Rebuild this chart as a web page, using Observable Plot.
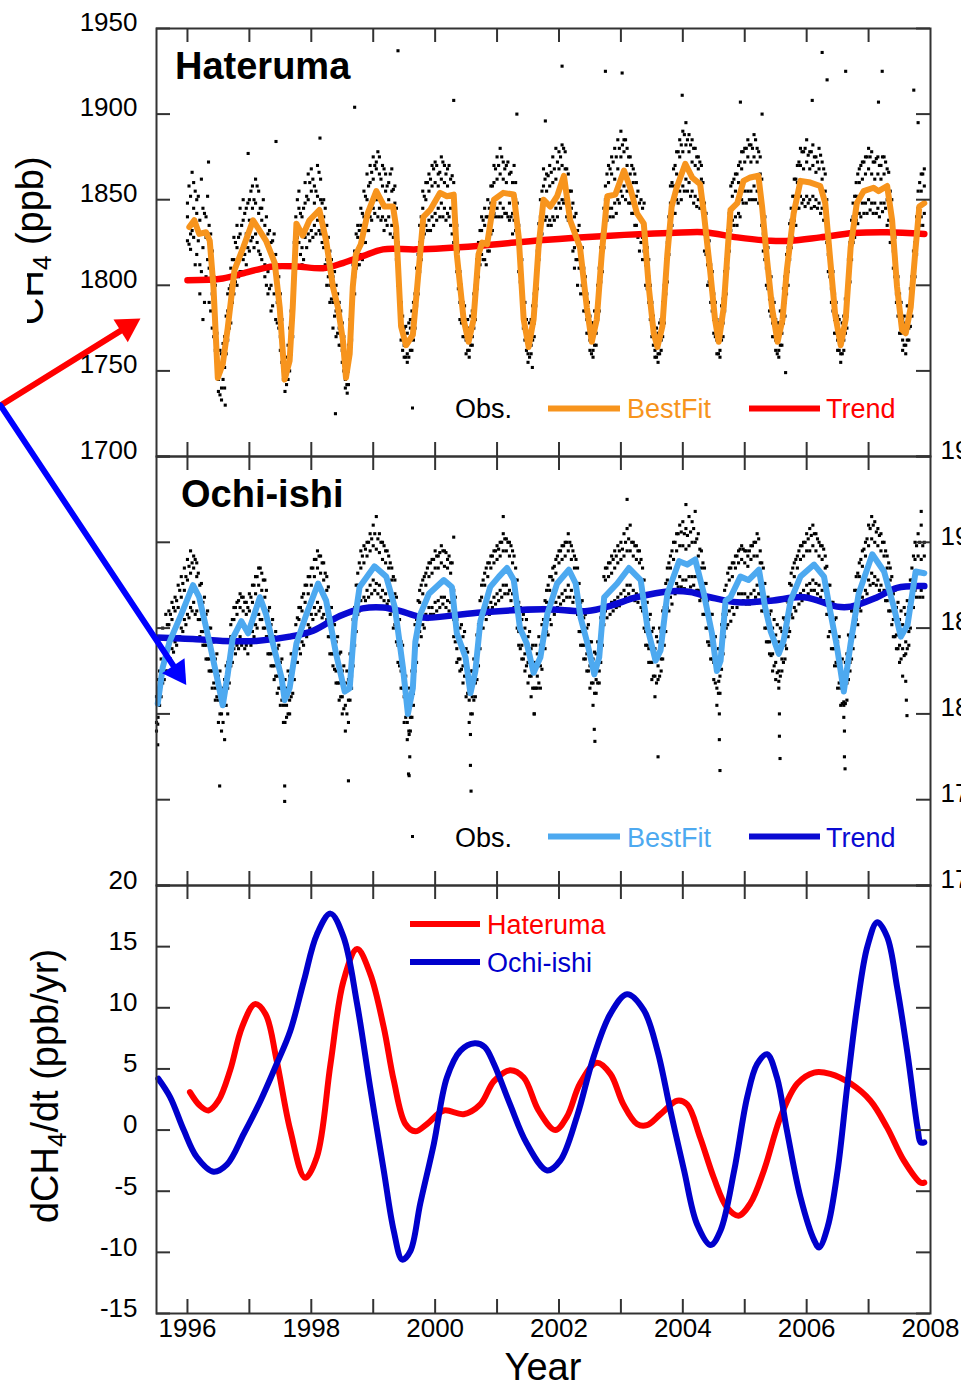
<!DOCTYPE html>
<html><head><meta charset="utf-8">
<script src="https://cdn.jsdelivr.net/npm/d3@7"></script>
<script src="https://cdn.jsdelivr.net/npm/@observablehq/plot@0.6"></script>
<style>
body{margin:0;background:#fff}
#root{position:relative;width:961px;height:1386px;overflow:hidden;background:#fff;font-family:"Liberation Sans",Arial,sans-serif}
</style></head><body><div id="root"></div>
<script>
// ---------- tick values ----------
const yearTicks = [1996,1997,1998,1999,2000,2001,2002,2003,2004,2005,2006,2007];
const yearLabels = [1996,1998,2000,2002,2004,2006,2008];
const ppbTicks = [1700,1750,1800,1850,1900,1950];
const rateTicks = [-15,-10,-5,0,5,10,15,20];

// ---------- Hateruma (year, ppb) ----------
const hatBestFit = [[1996.03,1834],[1996.11,1838],[1996.19,1830],[1996.30,1831],[1996.36,1826],[1996.42,1799],[1996.49,1746],[1996.57,1754],[1996.65,1775],[1996.76,1809],[1996.90,1822],[1997.06,1838],[1997.27,1826],[1997.41,1813],[1997.49,1787],[1997.57,1745],[1997.65,1756],[1997.70,1787],[1997.76,1836],[1997.86,1829],[1997.97,1838],[1998.13,1844],[1998.24,1826],[1998.35,1799],[1998.43,1787],[1998.51,1768],[1998.56,1746],[1998.62,1760],[1998.67,1799],[1998.72,1818],[1998.80,1824],[1998.91,1842],[1999.05,1855],[1999.18,1846],[1999.32,1846],[1999.37,1834],[1999.45,1776],[1999.53,1765],[1999.64,1771],[1999.71,1799],[1999.81,1840],[1999.92,1844],[2000.08,1854],[2000.19,1852],[2000.30,1853],[2000.35,1818],[2000.46,1780],[2000.54,1767],[2000.62,1780],[2000.70,1818],[2000.76,1825],[2000.84,1824],[2000.95,1850],[2001.10,1854],[2001.27,1853],[2001.35,1828],[2001.43,1780],[2001.51,1764],[2001.59,1780],[2001.67,1822],[2001.75,1850],[2001.86,1846],[2001.97,1852],[2002.08,1864],[2002.18,1838],[2002.34,1822],[2002.45,1787],[2002.53,1767],[2002.61,1780],[2002.69,1818],[2002.78,1852],[2002.91,1853],[2003.05,1867],[2003.15,1857],[2003.26,1842],[2003.37,1836],[2003.45,1799],[2003.53,1772],[2003.59,1764],[2003.67,1776],[2003.75,1818],[2003.82,1846],[2003.90,1857],[2004.04,1871],[2004.15,1863],[2004.28,1859],[2004.34,1842],[2004.44,1809],[2004.52,1780],[2004.58,1767],[2004.66,1787],[2004.77,1844],[2004.88,1848],[2004.98,1861],[2005.09,1863],[2005.22,1864],[2005.28,1846],[2005.36,1815],[2005.44,1787],[2005.53,1767],[2005.61,1780],[2005.68,1809],[2005.79,1842],[2005.90,1861],[2006.06,1860],[2006.22,1858],[2006.30,1848],[2006.38,1815],[2006.46,1783],[2006.55,1765],[2006.63,1780],[2006.71,1822],[2006.81,1848],[2006.92,1855],[2007.08,1857],[2007.16,1855],[2007.30,1858],[2007.38,1838],[2007.46,1799],[2007.54,1774],[2007.60,1772],[2007.68,1787],[2007.76,1822],[2007.82,1846],[2007.90,1848]];
const hatTrend = [[1996.00,1803],[1996.57,1804],[1996.90,1807],[1997.11,1809],[1997.38,1811],[1997.76,1811],[1998.19,1810],[1998.51,1813],[1998.83,1817],[1999.16,1821],[1999.70,1821],[2000.68,1823],[2001.75,1826.5],[2002.83,1829],[2003.80,1830.5],[2004.34,1831],[2004.88,1828],[2005.42,1826],[2005.74,1826],[2006.22,1828],[2006.76,1830.5],[2007.30,1831],[2007.90,1830]];
// observations: [year, reading, reading, ...]
const hatObs = [
[1996.00,1840,1826,1848],[1996.05,1852,1830,1821],[1996.10,1845,1828,1860],[1996.15,1842,1818,1850],[1996.20,1838,1812,1795],[1996.25,1845,1822,1780],[1996.30,1828,1840,1805],[1996.35,1835,1810,1790],[1996.40,1820,1795,1775],[1996.45,1790,1762,1800],[1996.50,1755,1738,1745],[1996.55,1740,1760,1733],[1996.60,1770,1752,1740],[1996.65,1785,1768,1795],[1996.70,1800,1778,1810],[1996.75,1815,1795,1828],[1996.80,1822,1800,1835],[1996.85,1830,1808,1845],[1996.90,1838,1815,1850],[1996.95,1845,1830,1812],
[1997.00,1850,1838,1820],[1997.05,1845,1858,1828],[1997.10,1848,1830,1862],[1997.15,1842,1820,1855],[1997.20,1838,1815,1845],[1997.25,1835,1812,1805],[1997.30,1830,1808,1795],[1997.35,1825,1800,1785],[1997.40,1810,1795,1830],[1997.45,1790,1812,1778],[1997.50,1770,1795,1762],[1997.55,1750,1765,1745],[1997.60,1742,1758,1748],[1997.65,1765,1750,1775],[1997.70,1780,1800,1770],[1997.75,1820,1840,1810],[1997.80,1845,1825,1855],[1997.85,1840,1822,1812],[1997.90,1848,1828,1860],[1997.95,1850,1830,1865],
[1998.00,1855,1832,1868],[1998.05,1858,1835,1848],[1998.10,1852,1838,1870],[1998.15,1850,1830,1862],[1998.20,1840,1822,1850],[1998.25,1835,1815,1800],[1998.30,1820,1800,1790],[1998.35,1805,1790,1775],[1998.40,1785,1800,1770],[1998.45,1775,1790,1765],[1998.50,1762,1778,1755],[1998.55,1745,1758,1740],[1998.60,1750,1765,1742],[1998.65,1775,1795,1768],[1998.70,1805,1820,1795],[1998.75,1828,1812,1835],[1998.80,1835,1818,1845],[1998.85,1840,1825,1855],[1998.90,1850,1832,1865],[1998.95,1860,1840,1870],
[1999.00,1862,1845,1875],[1999.05,1868,1850,1872],[1999.10,1865,1845,1875],[1999.15,1858,1840,1870],[1999.20,1855,1838,1865],[1999.25,1860,1840,1850],[1999.30,1855,1835,1868],[1999.35,1848,1830,1858],[1999.40,1815,1800,1825],[1999.45,1780,1768,1790],[1999.50,1765,1775,1758],[1999.55,1760,1772,1755],[1999.60,1762,1775,1780],[1999.65,1780,1768,1790],[1999.70,1800,1788,1810],[1999.75,1825,1808,1835],[1999.80,1845,1828,1855],[1999.85,1850,1835,1860],[1999.90,1855,1838,1865],[1999.95,1858,1840,1870],
[2000.00,1860,1842,1872],[2000.05,1865,1845,1858],[2000.10,1862,1848,1875],[2000.15,1860,1845,1870],[2000.20,1858,1842,1868],[2000.25,1862,1845,1835],[2000.30,1860,1840,1825],[2000.35,1825,1808,1835],[2000.40,1790,1808,1780],[2000.45,1778,1790,1770],[2000.50,1768,1780,1760],[2000.55,1762,1775,1758],[2000.60,1770,1785,1765],[2000.65,1788,1800,1780],[2000.70,1810,1825,1805],[2000.75,1832,1818,1840],[2000.80,1835,1815,1845],[2000.85,1840,1820,1850],[2000.90,1848,1830,1858],[2000.95,1860,1842,1870],
[2001.00,1862,1845,1875],[2001.05,1865,1848,1880],[2001.10,1862,1845,1872],[2001.15,1860,1842,1870],[2001.20,1865,1848,1838],[2001.25,1860,1842,1830],[2001.30,1850,1832,1860],[2001.35,1835,1818,1808],[2001.40,1805,1790,1815],[2001.45,1780,1768,1790],[2001.50,1760,1772,1755],[2001.55,1765,1780,1760],[2001.60,1778,1795,1770],[2001.65,1805,1820,1798],[2001.70,1840,1825,1850],[2001.75,1858,1842,1868],[2001.80,1855,1840,1865],[2001.85,1858,1838,1870],[2001.90,1860,1840,1875],[2001.95,1862,1845,1880],
[2002.00,1868,1848,1878],[2002.05,1870,1850,1882],[2002.10,1868,1850,1878],[2002.15,1855,1838,1865],[2002.20,1845,1828,1855],[2002.25,1840,1822,1810],[2002.30,1832,1815,1800],[2002.35,1828,1810,1795],[2002.40,1810,1795,1785],[2002.45,1780,1795,1772],[2002.50,1768,1782,1762],[2002.55,1762,1778,1758],[2002.60,1772,1785,1765],[2002.65,1792,1810,1785],[2002.70,1815,1830,1808],[2002.75,1850,1835,1858],[2002.80,1860,1845,1870],[2002.85,1865,1845,1875],[2002.90,1862,1848,1880],[2002.95,1868,1850,1885],
[2003.00,1875,1855,1890],[2003.05,1878,1858,1885],[2003.10,1870,1855,1880],[2003.15,1865,1848,1875],[2003.20,1860,1842,1868],[2003.25,1852,1835,1860],[2003.30,1848,1830,1820],[2003.35,1845,1828,1815],[2003.40,1830,1812,1800],[2003.45,1805,1790,1815],[2003.50,1778,1790,1770],[2003.55,1762,1775,1758],[2003.60,1760,1772,1755],[2003.65,1768,1780,1762],[2003.70,1785,1800,1778],[2003.75,1810,1825,1802],[2003.80,1848,1832,1858],[2003.85,1858,1842,1868],[2003.90,1865,1850,1878],[2003.95,1875,1855,1885],
[2004.00,1878,1858,1890],[2004.05,1882,1862,1895],[2004.10,1878,1860,1888],[2004.15,1872,1855,1885],[2004.20,1870,1852,1880],[2004.25,1868,1850,1875],[2004.30,1862,1845,1870],[2004.35,1848,1830,1820],[2004.40,1830,1812,1800],[2004.45,1812,1798,1790],[2004.50,1780,1795,1772],[2004.55,1768,1780,1760],[2004.60,1762,1778,1758],[2004.65,1778,1792,1770],[2004.70,1800,1815,1795],[2004.75,1828,1842,1820],[2004.80,1852,1838,1860],[2004.85,1855,1840,1865],[2004.90,1860,1842,1870],[2004.95,1868,1850,1878],
[2005.00,1872,1855,1880],[2005.05,1875,1855,1885],[2005.10,1872,1855,1882],[2005.15,1875,1858,1888],[2005.20,1872,1855,1880],[2005.25,1865,1848,1875],[2005.30,1845,1830,1820],[2005.35,1825,1810,1800],[2005.40,1808,1792,1785],[2005.45,1778,1792,1770],[2005.50,1768,1780,1762],[2005.55,1762,1778,1758],[2005.60,1772,1785,1765],[2005.65,1790,1805,1782],[2005.70,1808,1822,1800],[2005.75,1838,1822,1845],[2005.80,1852,1838,1862],[2005.85,1860,1845,1870],[2005.90,1870,1852,1880],[2005.95,1868,1850,1878],
[2006.00,1872,1852,1885],[2006.05,1868,1850,1878],[2006.10,1870,1852,1882],[2006.15,1866,1850,1875],[2006.20,1868,1848,1880],[2006.25,1862,1845,1872],[2006.30,1855,1838,1865],[2006.35,1835,1818,1808],[2006.40,1815,1798,1790],[2006.45,1780,1795,1772],[2006.50,1768,1782,1762],[2006.55,1760,1772,1755],[2006.60,1768,1782,1762],[2006.65,1782,1798,1775],[2006.70,1810,1825,1802],[2006.75,1840,1825,1848],[2006.80,1852,1838,1860],[2006.85,1860,1842,1868],[2006.90,1862,1848,1872],[2006.95,1865,1848,1875],
[2007.00,1868,1850,1880],[2007.05,1865,1848,1878],[2007.10,1862,1848,1872],[2007.15,1865,1845,1875],[2007.20,1862,1848,1870],[2007.25,1865,1848,1875],[2007.30,1868,1850,1835],[2007.35,1855,1838,1825],[2007.40,1835,1820,1810],[2007.45,1810,1795,1790],[2007.50,1780,1795,1772],[2007.55,1768,1780,1762],[2007.60,1765,1778,1760],[2007.65,1775,1788,1768],[2007.70,1790,1805,1782],[2007.75,1812,1825,1805],[2007.80,1845,1830,1855],[2007.85,1855,1840,1865],[2007.90,1858,1842,1868],
[1996.025,1858,1824],[1996.075,1832,1866],[1996.125,1855,1812],[1996.175,1826,1852],[1996.225,1808,1862],[1996.275,1842,1790],[1996.325,1815,1852],[1996.375,1830,1785],[1996.425,1805,1770],[1996.475,1750,1772],[1996.525,1736,1762],[1996.575,1745,1766],[1996.625,1760,1782],[1996.675,1775,1798],[1996.725,1790,1815],[1996.775,1802,1825],[1996.825,1828,1805],[1996.875,1835,1808],[1996.925,1842,1818],[1996.975,1848,1822],
[1997.025,1855,1826],[1997.075,1850,1822],[1997.125,1858,1825],[1997.175,1845,1818],[1997.225,1850,1810],[1997.275,1840,1800],[1997.325,1832,1798],[1997.375,1826,1788],[1997.425,1818,1780],[1997.475,1805,1775],[1997.525,1780,1755],[1997.575,1752,1738],[1997.625,1745,1765],[1997.675,1760,1785],[1997.725,1795,1825],[1997.775,1828,1850],[1997.825,1842,1818],[1997.875,1845,1815],[1997.925,1852,1822],[1997.975,1860,1826],
[1998.025,1862,1828],[1998.075,1855,1830],[1998.125,1866,1832],[1998.175,1848,1825],[1998.225,1845,1812],[1998.275,1828,1805],[1998.325,1815,1792],[1998.375,1782,1808],[1998.425,1795,1772],[1998.475,1785,1765],[1998.525,1770,1750],[1998.575,1742,1760],[1998.625,1758,1780],[1998.675,1790,1812],[1998.725,1810,1830],[1998.775,1832,1812],[1998.825,1842,1815],[1998.875,1852,1825],[1998.925,1858,1832],[1998.975,1866,1838],
[1999.025,1870,1842],[1999.075,1878,1840],[1999.125,1862,1838],[1999.175,1868,1832],[1999.225,1858,1835],[1999.275,1865,1830],[1999.325,1856,1828],[1999.375,1845,1815],[1999.425,1800,1778],[1999.475,1782,1762],[1999.525,1758,1776],[1999.575,1778,1758],[1999.625,1762,1785],[1999.675,1775,1795],[1999.725,1795,1818],[1999.775,1815,1840],[1999.825,1852,1830],[1999.875,1860,1832],[1999.925,1862,1832],[1999.975,1868,1835],
[2000.025,1870,1838],[2000.075,1866,1840],[2000.125,1872,1840],[2000.175,1865,1838],[2000.225,1870,1840],[2000.275,1864,1830],[2000.325,1848,1822],[2000.375,1820,1798],[2000.425,1800,1778],[2000.475,1770,1788],[2000.525,1762,1780],[2000.575,1765,1782],[2000.625,1775,1795],[2000.675,1798,1815],[2000.725,1812,1832],[2000.775,1838,1815],[2000.825,1840,1812],[2000.875,1845,1820],[2000.925,1858,1832],[2000.975,1868,1840],
[2001.025,1870,1840],[2001.075,1875,1840],[2001.125,1868,1842],[2001.175,1872,1840],[2001.225,1866,1840],[2001.275,1870,1838],[2001.325,1848,1825],[2001.375,1825,1802],[2001.425,1795,1775],[2001.475,1762,1780],[2001.525,1758,1778],[2001.575,1768,1788],[2001.625,1788,1808],[2001.675,1815,1836],[2001.725,1830,1855],[2001.775,1862,1838],[2001.825,1864,1835],[2001.875,1866,1835],[2001.925,1868,1838],[2001.975,1872,1840],
[2002.025,1875,1845],[2002.075,1880,1848],[2002.125,1868,1840],[2002.175,1855,1828],[2002.225,1848,1820],[2002.275,1842,1815],[2002.325,1835,1810],[2002.375,1822,1800],[2002.425,1805,1785],[2002.475,1772,1790],[2002.525,1760,1778],[2002.575,1765,1785],[2002.625,1780,1800],[2002.675,1802,1822],[2002.725,1822,1845],[2002.775,1865,1838],[2002.825,1868,1840],[2002.875,1872,1840],[2002.925,1875,1842],[2002.975,1880,1848],
[2003.025,1882,1852],[2003.075,1885,1850],[2003.125,1875,1848],[2003.175,1870,1842],[2003.225,1865,1835],[2003.275,1855,1828],[2003.325,1850,1825],[2003.375,1848,1820],[2003.425,1822,1798],[2003.475,1800,1780],[2003.525,1765,1782],[2003.575,1758,1775],[2003.625,1760,1778],[2003.675,1770,1790],[2003.725,1795,1815],[2003.775,1818,1840],[2003.825,1860,1835],[2003.875,1870,1842],[2003.925,1878,1848],[2003.975,1882,1850],
[2004.025,1888,1855],[2004.075,1885,1855],[2004.125,1882,1852],[2004.175,1880,1848],[2004.225,1875,1846],[2004.275,1872,1845],[2004.325,1860,1832],[2004.375,1842,1818],[2004.425,1826,1802],[2004.475,1808,1785],[2004.525,1770,1790],[2004.575,1760,1778],[2004.625,1768,1788],[2004.675,1785,1808],[2004.725,1810,1832],[2004.775,1832,1858],[2004.825,1862,1835],[2004.875,1865,1835],[2004.925,1872,1840],[2004.975,1878,1848],
[2005.025,1880,1848],[2005.075,1882,1850],[2005.125,1880,1850],[2005.175,1885,1850],[2005.225,1878,1848],[2005.275,1862,1835],[2005.325,1840,1815],[2005.375,1822,1798],[2005.425,1805,1782],[2005.475,1770,1790],[2005.525,1760,1778],[2005.575,1765,1785],[2005.625,1778,1798],[2005.675,1795,1818],[2005.725,1815,1836],[2005.775,1828,1852],[2005.825,1862,1835],[2005.875,1872,1845],[2005.925,1878,1848],[2005.975,1880,1846],
[2006.025,1876,1848],[2006.075,1878,1845],[2006.125,1875,1846],[2006.175,1872,1845],[2006.225,1876,1842],[2006.275,1868,1838],[2006.325,1850,1825],[2006.375,1828,1805],[2006.425,1808,1785],[2006.475,1772,1790],[2006.525,1762,1780],[2006.575,1760,1778],[2006.625,1772,1792],[2006.675,1792,1815],[2006.725,1815,1838],[2006.775,1852,1828],[2006.825,1865,1836],[2006.875,1870,1840],[2006.925,1872,1842],[2006.975,1875,1842],
[2007.025,1875,1844],[2007.075,1872,1842],[2007.125,1874,1842],[2007.175,1870,1840],[2007.225,1875,1843],[2007.275,1872,1845],[2007.325,1866,1838],[2007.375,1850,1825],[2007.425,1828,1805],[2007.475,1805,1782],[2007.525,1772,1790],[2007.575,1765,1782],[2007.625,1768,1788],[2007.675,1776,1798],[2007.725,1798,1820],[2007.775,1818,1840],[2007.825,1860,1835],[2007.875,1865,1835]];
const hatOutliers = [[1999.40,1937],[1998.70,1904],[2000.30,1908],[1998.14,1886],[1997.43,1884],[1996.98,1877],[1996.34,1872],[1998.39,1725],[1996.61,1730],[1998.58,1737],[2002.05,1928],[2002.75,1925],[2003.02,1924],[2006.25,1936],[2006.63,1925],[2007.22,1925],[2006.33,1920],[2007.73,1914],[2006.09,1908],[2003.99,1911],[2005.66,1749],[2001.57,1752],[2001.32,1900],[2001.78,1896],[2007.16,1907],[2007.80,1895],[2004.93,1907],[2005.28,1900]];

// ---------- Ochi-ishi (year, ppb) ----------
const ochBestFit = [[1995.52,1806],[1995.60,1827],[1995.71,1842],[1995.90,1858],[1996.09,1875],[1996.19,1868],[1996.36,1841],[1996.49,1819],[1996.57,1805],[1996.65,1823],[1996.73,1844],[1996.87,1854],[1996.98,1847],[1997.17,1868],[1997.27,1858],[1997.38,1841],[1997.52,1821],[1997.57,1808],[1997.65,1815],[1997.76,1841],[1997.92,1858],[1998.11,1876],[1998.24,1866],[1998.40,1835],[1998.54,1813],[1998.62,1815],[1998.70,1854],[1998.78,1874],[1999.02,1886],[1999.21,1880],[1999.35,1862],[1999.48,1827],[1999.56,1800],[1999.64,1815],[1999.68,1842],[1999.76,1858],[1999.90,1870],[2000.14,1878],[2000.27,1874],[2000.35,1847],[2000.49,1833],[2000.57,1812],[2000.65,1825],[2000.73,1854],[2000.89,1874],[2001.03,1880],[2001.16,1885],[2001.27,1878],[2001.37,1850],[2001.48,1841],[2001.59,1824],[2001.70,1833],[2001.81,1858],[2001.97,1876],[2002.16,1884],[2002.27,1876],[2002.35,1856],[2002.46,1841],[2002.57,1823],[2002.65,1833],[2002.73,1868],[2002.94,1876],[2003.13,1885],[2003.32,1878],[2003.43,1850],[2003.56,1831],[2003.64,1837],[2003.75,1870],[2003.94,1889],[2004.07,1887],[2004.20,1890],[2004.34,1870],[2004.47,1847],[2004.55,1825],[2004.61,1831],[2004.69,1866],[2004.77,1868],[2004.93,1880],[2005.06,1878],[2005.23,1884],[2005.33,1862],[2005.42,1848],[2005.55,1835],[2005.63,1843],[2005.74,1866],[2005.90,1880],[2006.12,1887],[2006.28,1880],[2006.38,1860],[2006.49,1839],[2006.60,1813],[2006.71,1841],[2006.84,1870],[2007.06,1893],[2007.25,1883],[2007.41,1862],[2007.52,1845],[2007.63,1852],[2007.76,1883],[2007.90,1882]];
const ochTrend = [[1995.50,1844.5],[1996.14,1843.5],[1996.57,1842.5],[1997.11,1842.5],[1997.65,1845],[1998.03,1848.5],[1998.46,1857],[1998.83,1861.5],[1999.16,1862],[1999.43,1860],[1999.70,1857],[1999.87,1856],[2000.68,1859],[2001.75,1861],[2002.46,1860],[2002.83,1863],[2003.26,1868],[2003.80,1871.5],[2004.12,1871],[2004.44,1868],[2004.88,1865],[2005.42,1866],[2005.96,1868],[2006.49,1862.5],[2006.71,1862.5],[2007.14,1868],[2007.46,1873.5],[2007.90,1874.5]];
const ochObs = [
[1995.50,1810,1795,1790],[1995.55,1825,1805,1840],[1995.60,1838,1818,1850],[1995.65,1845,1825,1858],[1995.70,1852,1832,1860],[1995.75,1855,1838,1865],[1995.80,1860,1842,1868],[1995.85,1862,1845,1875],[1995.90,1868,1850,1880],[1995.95,1872,1855,1885],
[1996.00,1878,1858,1890],[1996.05,1882,1862,1895],[1996.10,1885,1865,1892],[1996.15,1880,1860,1888],[1996.20,1875,1855,1845],[1996.25,1865,1848,1840],[1996.30,1858,1840,1832],[1996.35,1850,1832,1825],[1996.40,1842,1825,1815],[1996.45,1832,1815,1808],[1996.50,1822,1808,1795],[1996.55,1812,1800,1790],[1996.60,1805,1820,1785],[1996.65,1815,1830,1800],[1996.70,1845,1828,1852],[1996.75,1855,1838,1862],[1996.80,1858,1840,1865],[1996.85,1862,1845,1870],[1996.90,1860,1842,1868],[1996.95,1858,1840,1865],
[1997.00,1860,1842,1870],[1997.05,1865,1848,1875],[1997.10,1870,1852,1880],[1997.15,1875,1858,1885],[1997.20,1872,1855,1882],[1997.25,1868,1850,1878],[1997.30,1860,1845,1835],[1997.35,1852,1835,1828],[1997.40,1845,1828,1820],[1997.45,1838,1822,1812],[1997.50,1830,1815,1805],[1997.55,1818,1805,1795],[1997.60,1805,1815,1798],[1997.65,1808,1822,1800],[1997.70,1820,1835,1812],[1997.75,1845,1830,1852],[1997.80,1855,1838,1862],[1997.85,1860,1842,1868],[1997.90,1865,1848,1875],[1997.95,1870,1852,1880],
[1998.00,1875,1858,1885],[1998.05,1880,1862,1890],[1998.10,1885,1865,1895],[1998.15,1882,1862,1892],[1998.20,1878,1858,1888],[1998.25,1872,1855,1880],[1998.30,1862,1845,1835],[1998.35,1852,1835,1828],[1998.40,1842,1825,1818],[1998.45,1835,1818,1808],[1998.50,1825,1810,1800],[1998.55,1818,1805,1790],[1998.60,1808,1820,1795],[1998.65,1822,1838,1815],[1998.70,1848,1862,1840],[1998.75,1875,1858,1882],[1998.80,1885,1866,1895],[1998.85,1888,1868,1898],[1998.90,1892,1872,1900],[1998.95,1895,1875,1905],
[1999.00,1898,1878,1910],[1999.05,1896,1876,1915],[1999.10,1894,1875,1905],[1999.15,1890,1872,1900],[1999.20,1888,1870,1895],[1999.25,1885,1866,1892],[1999.30,1878,1860,1885],[1999.35,1870,1852,1878],[1999.40,1855,1840,1830],[1999.45,1842,1825,1815],[1999.50,1825,1810,1795],[1999.55,1808,1795,1785],[1999.60,1798,1812,1790],[1999.65,1812,1828,1805],[1999.70,1840,1855,1830],[1999.75,1865,1848,1872],[1999.80,1870,1852,1878],[1999.85,1875,1858,1882],[1999.90,1880,1862,1888],[1999.95,1882,1862,1890],
[2000.00,1885,1865,1895],[2000.05,1885,1866,1892],[2000.10,1888,1868,1898],[2000.15,1886,1868,1895],[2000.20,1885,1866,1890],[2000.25,1882,1865,1888],[2000.30,1872,1855,1845],[2000.35,1855,1838,1830],[2000.40,1850,1832,1825],[2000.45,1845,1828,1818],[2000.50,1838,1822,1810],[2000.55,1822,1808,1795],[2000.60,1810,1825,1800],[2000.65,1818,1832,1810],[2000.70,1838,1852,1828],[2000.75,1868,1850,1875],[2000.80,1875,1858,1882],[2000.85,1880,1862,1888],[2000.90,1885,1865,1892],[2000.95,1888,1868,1895],
[2001.00,1890,1870,1898],[2001.05,1892,1872,1900],[2001.10,1895,1875,1905],[2001.15,1895,1875,1902],[2001.20,1892,1872,1900],[2001.25,1888,1870,1895],[2001.30,1878,1860,1885],[2001.35,1865,1848,1840],[2001.40,1855,1840,1832],[2001.45,1850,1835,1825],[2001.50,1845,1830,1818],[2001.55,1838,1822,1810],[2001.60,1830,1815,1800],[2001.65,1822,1835,1815],[2001.70,1828,1840,1815],[2001.75,1855,1840,1862],[2001.80,1865,1848,1872],[2001.85,1872,1855,1880],[2001.90,1878,1860,1885],[2001.95,1882,1865,1890],
[2002.00,1888,1868,1895],[2002.05,1890,1870,1898],[2002.10,1892,1872,1900],[2002.15,1895,1875,1905],[2002.20,1890,1872,1898],[2002.25,1885,1868,1892],[2002.30,1876,1858,1885],[2002.35,1865,1848,1840],[2002.40,1856,1840,1832],[2002.45,1850,1835,1825],[2002.50,1842,1828,1815],[2002.55,1832,1818,1805],[2002.60,1820,1835,1812],[2002.65,1825,1840,1818],[2002.70,1848,1862,1840],[2002.75,1878,1860,1885],[2002.80,1880,1862,1888],[2002.85,1882,1865,1892],[2002.90,1885,1866,1895],[2002.95,1888,1868,1898],
[2003.00,1890,1870,1900],[2003.05,1892,1872,1905],[2003.10,1895,1875,1908],[2003.15,1895,1875,1910],[2003.20,1892,1872,1900],[2003.25,1890,1870,1898],[2003.30,1888,1868,1895],[2003.35,1878,1860,1885],[2003.40,1865,1848,1840],[2003.45,1855,1838,1830],[2003.50,1848,1830,1820],[2003.55,1838,1822,1810],[2003.60,1828,1842,1820],[2003.65,1832,1848,1825],[2003.70,1848,1862,1840],[2003.75,1878,1862,1885],[2003.80,1885,1868,1892],[2003.85,1890,1872,1900],[2003.90,1895,1876,1905],[2003.95,1898,1880,1910],
[2004.00,1898,1878,1912],[2004.05,1896,1878,1908],[2004.10,1898,1880,1915],[2004.15,1900,1880,1912],[2004.20,1900,1880,1918],[2004.25,1892,1872,1905],[2004.30,1885,1868,1895],[2004.35,1876,1858,1885],[2004.40,1866,1850,1842],[2004.45,1858,1842,1832],[2004.50,1845,1830,1820],[2004.55,1830,1815,1805],[2004.60,1822,1838,1812],[2004.65,1842,1858,1835],[2004.70,1875,1858,1850],[2004.75,1878,1860,1885],[2004.80,1880,1862,1888],[2004.85,1885,1866,1892],[2004.90,1888,1870,1895],[2004.95,1890,1870,1898],
[2005.00,1888,1870,1895],[2005.05,1886,1868,1892],[2005.10,1890,1870,1898],[2005.15,1892,1872,1900],[2005.20,1892,1875,1905],[2005.25,1888,1870,1895],[2005.30,1876,1860,1885],[2005.35,1865,1850,1842],[2005.40,1858,1842,1835],[2005.45,1850,1835,1825],[2005.50,1846,1830,1820],[2005.55,1842,1825,1815],[2005.60,1832,1848,1825],[2005.65,1840,1855,1832],[2005.70,1865,1850,1845],[2005.75,1875,1858,1882],[2005.80,1880,1862,1888],[2005.85,1885,1868,1892],[2005.90,1890,1870,1898],[2005.95,1892,1872,1900],
[2006.00,1895,1875,1905],[2006.05,1895,1876,1908],[2006.10,1898,1878,1910],[2006.15,1895,1876,1905],[2006.20,1892,1875,1900],[2006.25,1890,1872,1898],[2006.30,1885,1866,1892],[2006.35,1875,1858,1845],[2006.40,1865,1848,1838],[2006.45,1855,1838,1828],[2006.50,1842,1828,1815],[2006.55,1830,1815,1805],[2006.60,1818,1805,1798],[2006.65,1818,1835,1808],[2006.70,1830,1845,1825],[2006.75,1860,1845,1838],[2006.80,1872,1855,1880],[2006.85,1880,1862,1888],[2006.90,1886,1868,1895],[2006.95,1892,1872,1900],
[2007.00,1898,1878,1910],[2007.05,1902,1882,1915],[2007.10,1900,1880,1912],[2007.15,1898,1878,1908],[2007.20,1895,1875,1905],[2007.25,1892,1872,1900],[2007.30,1885,1866,1892],[2007.35,1878,1860,1885],[2007.40,1870,1855,1845],[2007.45,1862,1846,1838],[2007.50,1855,1840,1830],[2007.55,1852,1838,1822],[2007.60,1842,1858,1835],[2007.65,1848,1862,1840],[2007.70,1878,1862,1885],[2007.75,1890,1872,1900],[2007.80,1892,1875,1905],[2007.85,1890,1872,1910],[2007.90,1892,1875,1900],
[1995.525,1820,1798],[1995.575,1832,1810],[1995.625,1845,1820],[1995.675,1852,1825],[1995.725,1858,1832],[1995.775,1862,1836],[1995.825,1866,1840],[1995.875,1872,1845],[1995.925,1876,1848],[1995.975,1880,1852],
[1996.025,1886,1856],[1996.075,1888,1860],[1996.125,1890,1858],[1996.175,1882,1855],[1996.225,1876,1848],[1996.275,1868,1840],[1996.325,1860,1832],[1996.375,1850,1825],[1996.425,1842,1818],[1996.475,1835,1810],[1996.525,1825,1800],[1996.575,1815,1795],[1996.625,1828,1805],[1996.675,1842,1818],[1996.725,1855,1830],[1996.775,1862,1835],[1996.825,1866,1838],[1996.875,1868,1840],[1996.925,1865,1838],[1996.975,1862,1835],
[1997.025,1868,1840],[1997.075,1875,1845],[1997.125,1880,1850],[1997.175,1885,1855],[1997.225,1878,1850],[1997.275,1872,1845],[1997.325,1862,1835],[1997.375,1855,1828],[1997.425,1848,1822],[1997.475,1840,1815],[1997.525,1832,1808],[1997.575,1820,1795],[1997.625,1825,1800],[1997.675,1835,1810],[1997.725,1846,1820],[1997.775,1856,1830],[1997.825,1862,1835],[1997.875,1870,1840],[1997.925,1875,1845],[1997.975,1880,1850],
[1998.025,1885,1855],[1998.075,1890,1858],[1998.125,1892,1860],[1998.175,1888,1856],[1998.225,1882,1852],[1998.275,1874,1845],[1998.325,1862,1835],[1998.375,1852,1826],[1998.425,1845,1818],[1998.475,1836,1810],[1998.525,1828,1803],[1998.575,1825,1800],[1998.625,1835,1808],[1998.675,1855,1828],[1998.725,1875,1848],[1998.775,1888,1860],[1998.825,1892,1862],[1998.875,1896,1866],[1998.925,1900,1868],[1998.975,1902,1870],
[1999.025,1905,1872],[1999.075,1902,1870],[1999.125,1900,1868],[1999.175,1898,1866],[1999.225,1895,1864],[1999.275,1888,1858],[1999.325,1880,1850],[1999.375,1868,1842],[1999.425,1855,1828],[1999.475,1840,1815],[1999.525,1822,1798],[1999.575,1815,1790],[1999.625,1825,1798],[1999.675,1852,1825],[1999.725,1866,1840],[1999.775,1875,1845],[1999.825,1880,1850],[1999.875,1885,1855],[1999.925,1888,1858],[1999.975,1890,1858],
[2000.025,1892,1860],[2000.075,1894,1862],[2000.125,1895,1864],[2000.175,1894,1862],[2000.225,1892,1860],[2000.275,1888,1858],[2000.325,1868,1842],[2000.375,1858,1832],[2000.425,1852,1826],[2000.475,1848,1822],[2000.525,1836,1812],[2000.575,1825,1800],[2000.625,1832,1808],[2000.675,1846,1820],[2000.725,1866,1838],[2000.775,1878,1850],[2000.825,1885,1855],[2000.875,1888,1858],[2000.925,1892,1862],[2000.975,1895,1864],
[2001.025,1896,1866],[2001.075,1900,1868],[2001.125,1902,1870],[2001.175,1900,1870],[2001.225,1898,1866],[2001.275,1892,1862],[2001.325,1878,1850],[2001.375,1862,1838],[2001.425,1858,1832],[2001.475,1855,1828],[2001.525,1848,1822],[2001.575,1840,1815],[2001.625,1840,1815],[2001.675,1845,1818],[2001.725,1852,1826],[2001.775,1866,1838],[2001.825,1875,1846],[2001.875,1880,1852],[2001.925,1886,1858],[2001.975,1892,1862],
[2002.025,1895,1864],[2002.075,1898,1866],[2002.125,1900,1868],[2002.175,1900,1868],[2002.225,1895,1865],[2002.275,1890,1860],[2002.325,1876,1848],[2002.375,1866,1840],[2002.425,1858,1832],[2002.475,1852,1825],[2002.525,1842,1818],[2002.575,1836,1812],[2002.625,1842,1818],[2002.675,1856,1830],[2002.725,1880,1852],[2002.775,1885,1856],[2002.825,1888,1858],[2002.875,1890,1860],[2002.925,1892,1862],[2002.975,1895,1863],
[2003.025,1896,1865],[2003.075,1900,1868],[2003.125,1902,1870],[2003.175,1900,1868],[2003.225,1898,1866],[2003.275,1895,1865],[2003.325,1890,1862],[2003.375,1878,1850],[2003.425,1865,1840],[2003.475,1858,1830],[2003.525,1850,1822],[2003.575,1845,1818],[2003.625,1850,1822],[2003.675,1860,1832],[2003.725,1876,1848],[2003.775,1888,1860],[2003.825,1895,1864],[2003.875,1900,1870],[2003.925,1905,1874],[2003.975,1906,1874],
[2004.025,1905,1873],[2004.075,1904,1872],[2004.125,1906,1874],[2004.175,1908,1875],[2004.225,1902,1872],[2004.275,1896,1866],[2004.325,1888,1858],[2004.375,1876,1850],[2004.425,1868,1840],[2004.475,1858,1832],[2004.525,1845,1818],[2004.575,1838,1812],[2004.625,1852,1826],[2004.675,1872,1845],[2004.725,1882,1852],[2004.775,1885,1854],[2004.825,1888,1858],[2004.875,1892,1862],[2004.925,1896,1865],[2004.975,1896,1866],
[2005.025,1895,1864],[2005.075,1895,1864],[2005.125,1898,1866],[2005.175,1900,1868],[2005.225,1902,1870],[2005.275,1888,1860],[2005.325,1876,1850],[2005.375,1868,1842],[2005.425,1860,1834],[2005.475,1855,1828],[2005.525,1852,1824],[2005.575,1850,1822],[2005.625,1856,1830],[2005.675,1866,1838],[2005.725,1876,1848],[2005.775,1885,1856],[2005.825,1890,1860],[2005.875,1895,1864],[2005.925,1898,1866],[2005.975,1900,1868],
[2006.025,1902,1870],[2006.075,1904,1872],[2006.125,1905,1872],[2006.175,1902,1870],[2006.225,1898,1868],[2006.275,1896,1866],[2006.325,1886,1858],[2006.375,1875,1848],[2006.425,1865,1838],[2006.475,1856,1830],[2006.525,1845,1818],[2006.575,1832,1806],[2006.625,1830,1806],[2006.675,1846,1820],[2006.725,1860,1832],[2006.775,1872,1845],[2006.825,1882,1852],[2006.875,1890,1860],[2006.925,1896,1866],[2006.975,1902,1870],
[2007.025,1908,1875],[2007.075,1910,1876],[2007.125,1906,1875],[2007.175,1904,1872],[2007.225,1900,1870],[2007.275,1895,1866],[2007.325,1888,1860],[2007.375,1880,1852],[2007.425,1872,1845],[2007.475,1865,1838],[2007.525,1860,1832],[2007.575,1862,1834],[2007.625,1866,1838],[2007.675,1878,1850],[2007.725,1892,1862],[2007.775,1898,1868],[2007.825,1900,1868],[2007.875,1898,1868]];
const ochOutliers = [[1995.52,1794],[1995.52,1782],[1997.57,1758],[1997.57,1749],[1998.60,1761],[1999.57,1765],[1996.52,1758],[2000.57,1788],[2000.57,1770],[2000.58,1755],[1999.58,1788],[1999.59,1775],[1999.58,1764],[2001.60,1800],[2002.57,1791],[2002.58,1784],[2003.60,1775],[2004.58,1819],[2004.59,1800],[2004.59,1785],[2004.60,1767],[2005.55,1819],[2005.56,1800],[2005.56,1787],[2005.57,1774],[2006.60,1807],[2006.61,1790],[2006.61,1775],[2006.62,1768],[2007.60,1819],[2007.61,1808],[2007.62,1799],[1998.24,1921],[2001.10,1915],[2003.10,1925],[2004.05,1922],[2007.85,1918],[2000.30,1903]];

// ---------- growth rate dCH4/dt (year, ppb/yr) ----------
const dHat = [[1996.04,3.1],[1996.20,2.0],[1996.34,1.6],[1996.50,2.4],[1996.69,4.9],[1996.88,8.4],[1997.09,10.3],[1997.26,9.5],[1997.44,5.7],[1997.66,0],[1997.90,-3.9],[1998.09,-2.2],[1998.31,5.4],[1998.52,12.2],[1998.74,14.8],[1998.95,12.8],[1999.17,8.4],[1999.33,4.1],[1999.52,0.5],[1999.68,-0.1],[1999.87,0.5],[2000.14,1.6],[2000.46,1.3],[2000.73,2.1],[2000.95,4.0],[2001.21,4.9],[2001.43,4.3],[2001.67,1.6],[2001.94,0],[2002.13,1.1],[2002.34,3.8],[2002.61,5.5],[2002.83,4.6],[2003.04,2.1],[2003.26,0.5],[2003.42,0.4],[2003.64,1.3],[2003.91,2.4],[2004.07,2.1],[2004.28,-0.6],[2004.50,-3.9],[2004.71,-6.3],[2004.90,-7.0],[2005.09,-6.0],[2005.31,-3.3],[2005.58,1.1],[2005.85,3.8],[2006.12,4.7],[2006.38,4.6],[2006.71,3.8],[2007.03,2.4],[2007.30,0.2],[2007.57,-2.5],[2007.84,-4.3],[2007.90,-4.3]];
const dOch = [[1995.53,4.2],[1995.72,2.7],[1995.94,0],[1996.15,-2.2],[1996.42,-3.4],[1996.64,-2.8],[1996.91,-0.3],[1997.18,2.4],[1997.44,5.4],[1997.66,8.1],[1997.88,12.2],[1998.09,16.0],[1998.31,17.7],[1998.52,15.8],[1998.74,10.3],[1998.95,3.5],[1999.17,-3.3],[1999.33,-8.2],[1999.47,-10.6],[1999.60,-9.9],[1999.76,-6.0],[1999.98,-1.1],[2000.19,4.3],[2000.41,6.5],[2000.64,7.1],[2000.80,6.8],[2000.95,5.4],[2001.21,2.1],[2001.48,-1.1],[2001.81,-3.3],[2002.02,-2.5],[2002.29,1.1],[2002.56,6.0],[2002.83,9.5],[2003.10,11.1],[2003.37,9.8],[2003.59,6.5],[2003.80,1.6],[2004.02,-3.3],[2004.23,-7.7],[2004.45,-9.4],[2004.61,-8.2],[2004.83,-3.3],[2005.04,2.7],[2005.20,5.4],[2005.36,6.2],[2005.52,4.3],[2005.68,0],[2005.90,-5.5],[2006.12,-9.0],[2006.20,-9.6],[2006.34,-7.9],[2006.50,-3.3],[2006.66,3.8],[2006.82,10.3],[2006.98,15.0],[2007.14,17.0],[2007.30,15.8],[2007.46,11.7],[2007.63,6.2],[2007.79,0.2],[2007.84,-1.0],[2007.90,-1.0]];

// ---------- annotation arrows (data coordinates of each panel) ----------
const hatArrow = [{x1: 1992.98, y1: 1729.8, x2: 1995.24, y2: 1780.6}];
const ochArrow = [{x1: 1992.98, y1: 1979.8, x2: 1995.98, y2: 1816.8}];

// ---------- colours ----------
const C = {orange: "#f7941d", red: "#ff0000", light: "#4da9f0", dark: "#0a0ad2", blue: "#0000cc", arrowBlue: "#0000ff", frame: "#333"};
const FONT = '"Liberation Sans", Arial, sans-serif';

const W = 961, ML = 156, MR = 31, FW = W - ML - MR, TICK = 14;
const toPts = rows => rows.flatMap(([t, ...vs]) => vs.map(v => ({t, v})));
const pairPts = pairs => pairs.map(([t, v]) => ({t, v}));
const X = d => d[0], Y = d => d[1];

function frameMarks(frameH, yT) {
  return [
    Plot.frame({stroke: C.frame, strokeWidth: 2}),
    Plot.tickY(yT, {y: d => d, stroke: C.frame, strokeWidth: 2, insetRight: FW - TICK}),
    Plot.tickY(yT, {y: d => d, stroke: C.frame, strokeWidth: 2, insetLeft: FW - TICK}),
    Plot.tickX(yearTicks, {x: d => d, stroke: C.frame, strokeWidth: 2, insetBottom: frameH - TICK}),
    Plot.tickX(yearTicks, {x: d => d, stroke: C.frame, strokeWidth: 2, insetTop: frameH - TICK})
  ];
}
// arrow = shaft (Plot.arrow without head) + filled triangular head (Plot.dot)
function arrowMarks(data, color, angle, back) {
  const a = angle * Math.PI / 180;
  return [
    Plot.arrow(data, {x1: "x1", y1: "y1", x2: "x2", y2: "y2", stroke: color, strokeWidth: 6, headLength: 0, insetEnd: 14}),
    Plot.dot(data, {x: "x2", y: "y2", symbol: "triangle", r: 10, fill: color, stroke: null, rotate: angle,
      dx: -back * Math.sin(a), dy: back * Math.cos(a)})
  ];
}
const common = {
  width: W, marginLeft: ML, marginRight: MR,
  style: {background: "transparent", overflow: "visible", fontFamily: FONT, color: "#000"}
};
const xScale = {domain: [1995.5, 2008], axis: null};
const dotOpts = {x: "t", y: "v", symbol: "square", r: 1.75, fill: "#000", stroke: null};

const p1 = Plot.plot({
  ...common, height: 470, marginTop: 28, marginBottom: 14,
  x: xScale, y: {domain: [1700, 1950], axis: null},
  marks: [
    Plot.dot(toPts(hatObs).concat(pairPts(hatOutliers)), dotOpts),
    Plot.line(hatTrend, {x: X, y: Y, stroke: C.red, strokeWidth: 6.5, curve: "catmull-rom"}),
    Plot.line(hatBestFit, {x: X, y: Y, stroke: C.orange, strokeWidth: 6, strokeLinejoin: "round"}),
    ...frameMarks(428, ppbTicks),
    Plot.text(ppbTicks, {y: d => d, text: d => String(d), frameAnchor: "left", textAnchor: "end", dx: -19, dy: -6, fontSize: 26, fontFamily: FONT}),
    ...arrowMarks(hatArrow, C.red, 58.1, 15.5)
  ]
});
const p2 = Plot.plot({
  ...common, height: 460, marginTop: 16, marginBottom: 15,
  x: xScale, y: {domain: [1700, 1950], axis: null},
  marks: [
    Plot.dot(toPts(ochObs).concat(pairPts(ochOutliers)), dotOpts),
    Plot.line(ochTrend, {x: X, y: Y, stroke: C.dark, strokeWidth: 6.5, curve: "catmull-rom"}),
    Plot.line(ochBestFit, {x: X, y: Y, stroke: C.light, strokeWidth: 6, strokeLinejoin: "round"}),
    ...frameMarks(429, ppbTicks),
    Plot.text(ppbTicks, {y: d => d, text: d => String(d), frameAnchor: "right", textAnchor: "start", dx: 10, dy: -6, fontSize: 26, fontFamily: FONT}),
    ...arrowMarks(ochArrow, C.arrowBlue, 146.3, 15.5)
  ]
});
const p3 = Plot.plot({
  ...common, height: 516, marginTop: 15, marginBottom: 73,
  x: xScale, y: {domain: [-15, 20], axis: null},
  marks: [
    Plot.line(dHat, {x: X, y: Y, stroke: C.red, strokeWidth: 6, curve: "catmull-rom"}),
    Plot.line(dOch, {x: X, y: Y, stroke: C.blue, strokeWidth: 6, curve: "catmull-rom"}),
    ...frameMarks(428, rateTicks),
    Plot.text(rateTicks, {y: d => d, text: d => String(d), frameAnchor: "left", textAnchor: "end", dx: -19, dy: -5, fontSize: 26, fontFamily: FONT}),
    Plot.text(yearLabels, {x: d => d, text: d => String(d), frameAnchor: "bottom", dy: 23, fontSize: 26, fontFamily: FONT})
  ]
});

const root = document.getElementById("root");
[[p1, 0], [p2, 440], [p3, 870]].forEach(([el, top]) => {
  el.style.position = "absolute"; el.style.left = "0px"; el.style.top = top + "px";
  root.appendChild(el);
});

// ---------- titles, legends and axis titles ----------
const ns = "http://www.w3.org/2000/svg";
const ov = document.createElementNS(ns, "svg");
ov.setAttribute("width", 961); ov.setAttribute("height", 1386);
ov.setAttribute("style", "position:absolute;left:0;top:0;overflow:visible");
ov.setAttribute("font-family", FONT);
ov.innerHTML = `
<text x="175" y="79" font-size="38" font-weight="bold">Hateruma</text>
<text x="181" y="507" font-size="38" font-weight="bold">Ochi-ishi</text>

<rect x="411" y="406.5" width="3" height="3" fill="#000"/>
<text x="455" y="418" font-size="27">Obs.</text>
<line x1="548" x2="620" y1="408.5" y2="408.5" stroke="${C.orange}" stroke-width="6"/>
<text x="627" y="418" font-size="27" fill="${C.orange}">BestFit</text>
<line x1="749" x2="820" y1="408.5" y2="408.5" stroke="${C.red}" stroke-width="6"/>
<text x="826" y="418" font-size="27" fill="${C.red}">Trend</text>

<rect x="411" y="835" width="3" height="3" fill="#000"/>
<text x="455" y="846.5" font-size="27">Obs.</text>
<line x1="548" x2="620" y1="836.5" y2="836.5" stroke="${C.light}" stroke-width="6"/>
<text x="627" y="846.5" font-size="27" fill="${C.light}">BestFit</text>
<line x1="749" x2="820" y1="836.5" y2="836.5" stroke="${C.dark}" stroke-width="6"/>
<text x="826" y="846.5" font-size="27" fill="${C.dark}">Trend</text>

<line x1="410" x2="480" y1="924" y2="924" stroke="${C.red}" stroke-width="6"/>
<text x="487" y="933.5" font-size="27" fill="${C.red}">Hateruma</text>
<line x1="410" x2="480" y1="962" y2="962" stroke="${C.blue}" stroke-width="6"/>
<text x="487" y="971.5" font-size="27" fill="${C.blue}">Ochi-ishi</text>

<text transform="translate(58,1086) rotate(-90)" text-anchor="middle" font-size="38">dCH<tspan font-size="26" dy="8">4</tspan><tspan dy="-8">/dt (ppb/yr)</tspan></text>
<text x="543" y="1380" text-anchor="middle" font-size="38">Year</text>
<text transform="translate(43,325) rotate(-90)" font-size="38">CH<tspan font-size="26" dy="8">4</tspan><tspan dy="-8"> (ppb)</tspan></text>
<rect x="-5" y="262" width="32" height="73" fill="#fff"/>
`;
root.appendChild(ov);
</script>
</body></html>
